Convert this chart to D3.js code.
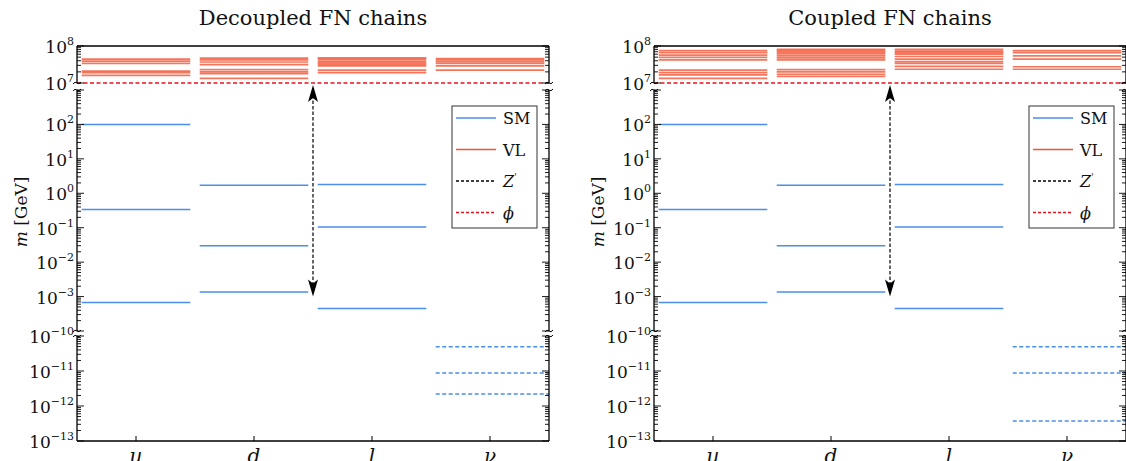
<!DOCTYPE html>
<html>
<head>
<meta charset="utf-8">
<script src="https://cdn.jsdelivr.net/npm/d3@7"></script>
<style>
body { margin: 0; background: #fff; }
text { font-family: "DejaVu Serif", serif; fill: #111; }
</style>
</head>
<body>
<script>
const width = 1126,
      height = 461;

const categories = ["u", "d", "l", "ν"];
const panelTitles = ["Decoupled FN chains", "Coupled FN chains"];

// SM masses in GeV (charged fermions are the same in both panels)
const smUp = [100, 0.34, 6.7e-4];
const smDown = [1.7, 0.03, 1.35e-3];
const smLepton = [1.8, 0.105, 4.5e-4];
const smNuDecoupled = [4.9e-11, 8.8e-12, 2.2e-12];
const smNuCoupled = [4.9e-11, 8.8e-12, 3.7e-13];

// vector-like masses in GeV
const vlUpDecoupled = [4.4e7, 3.9e7, 3.4e7, 2.1e7, 1.9e7, 1.6e7];
const vlDownDecoupled = [4.7e7, 4.2e7, 3.7e7, 3.15e7, 2.3e7, 2.0e7, 1.8e7, 1.34e7];
const vlLeptonDecoupled = [4.8e7, 4.4e7, 3.9e7, 3.5e7, 3.2e7, 2.9e7, 2.24e7, 1.9e7];
const vlNuDecoupled = [4.6e7, 4.2e7, 3.76e7, 3.4e7, 2.9e7, 2.24e7];

const vlUpCoupled = [7.5e7, 6.6e7, 5.7e7, 4.95e7, 4.2e7, 2.24e7, 1.9e7, 1.65e7, 1.34e7];
const vlDownCoupled = [8.1e7, 7.5e7, 6.8e7, 6.1e7, 5.4e7, 4.75e7, 4.2e7, 2.3e7, 2.0e7, 1.7e7, 1.5e7];
const vlLeptonCoupled = [8.1e7, 7.3e7, 6.6e7, 6.0e7, 5.2e7, 4.4e7, 3.8e7, 3.4e7, 2.8e7, 2.35e7];
const vlNuCoupled = [7.5e7, 6.6e7, 5.4e7, 4.4e7, 2.75e7, 2.35e7];

const phiMass = 1e7;
const zPrimeSpan = [1e7, 1e-3];
const zPrimeX = 1.5;

const yTickTop = [1e8, 1e7];
const yTickMid = [1e2, 1e1, 1e0, 1e-1, 1e-2, 1e-3];
const yTickBottom = [1e-10, 1e-11, 1e-12, 1e-13];

const panels = [
    {title: panelTitles[0], sm: [smUp, smDown, smLepton, smNuDecoupled],
     vl: [vlUpDecoupled, vlDownDecoupled, vlLeptonDecoupled, vlNuDecoupled]},
    {title: panelTitles[1], sm: [smUp, smDown, smLepton, smNuCoupled],
     vl: [vlUpCoupled, vlDownCoupled, vlLeptonCoupled, vlNuCoupled]}
];

const smColor = "#4a8ee8",
      vlColor = "#f25433",
      phiColor = "#e8121c";

const panelLeft = [77, 654],
      panelWidth = 472,
      plotTop = 46,
      plotBottom = 441;

// three stacked pieces of one broken log axis
const segments = [
    {scale: d3.scaleLog().domain([1e7, 1e8]).range([83, plotTop]), ticks: yTickTop},
    {scale: d3.scaleLog().domain([1e-4, 1e3]).range([331, 90]), ticks: yTickMid},
    {scale: d3.scaleLog().domain([1e-13, 1e-10]).range([plotBottom, 336]), ticks: yTickBottom}
];

function yOf(v) {
    for (let s of segments) {
        let d = s.scale.domain();
        if (v >= d[0] * 0.999 && v <= d[1] * 1.001) return s.scale(v);
    }
    return null;
}

function powLabel(sel, v) {
    let e = Math.round(Math.log10(v));
    sel.append("tspan").text("10");
    sel.append("tspan")
        .attr("dy", -8)
        .style("font-size", "11px")
        .text(String(e).replace("-", "−"));
}

let svg = d3.select("body")
    .append("svg")
    .attr("width", width)
    .attr("height", height);

function drawPanel(p, k) {
    let x0 = panelLeft[k];
    let x = d3.scaleLinear().domain([-0.5, 3.5]).range([x0, x0 + panelWidth]);
    let g = svg.append("g");

    // title
    g.append("text")
        .attr("x", x0 + panelWidth / 2)
        .attr("y", 25)
        .attr("text-anchor", "middle")
        .style("font-size", "21px")
        .text(p.title);

    // y label
    let yl = g.append("text")
        .attr("text-anchor", "middle")
        .attr("transform", "translate(" + (x0 - 50) + ",212)rotate(-90)")
        .style("font-size", "17px");
    yl.append("tspan").style("font-style", "italic").text("m");
    yl.append("tspan").text(" [GeV]");

    // VL lines
    p.vl.forEach(function (vals, i) {
        g.selectAll(null)
            .data(vals)
            .enter()
            .append("line")
            .attr("x1", x(i - 0.46))
            .attr("x2", x(i + 0.46))
            .attr("y1", d => yOf(d))
            .attr("y2", d => yOf(d))
            .attr("stroke", vlColor)
            .attr("stroke-opacity", 0.8)
            .attr("stroke-width", 1.7);
    });

    // SM lines
    p.sm.forEach(function (vals, i) {
        let nu = i === 3;
        g.selectAll(null)
            .data(vals)
            .enter()
            .append("line")
            .attr("x1", x(i - 0.46))
            .attr("x2", nu ? x(3.5) : x(i + 0.46))
            .attr("y1", d => yOf(d))
            .attr("y2", d => yOf(d))
            .attr("stroke", smColor)
            .attr("stroke-width", 1.5)
            .attr("stroke-dasharray", nu ? "4,2.5" : null);
    });

    // phi line
    g.append("line")
        .attr("x1", x(-0.5))
        .attr("x2", x(3.5))
        .attr("y1", yOf(phiMass))
        .attr("y2", yOf(phiMass))
        .attr("stroke", phiColor)
        .attr("stroke-width", 1.6)
        .attr("stroke-dasharray", "4,2.5");

    // Z' arrow
    let ax = x(zPrimeX),
        ya = yOf(zPrimeSpan[0]) + 2,
        yb = yOf(zPrimeSpan[1]);
    g.append("line")
        .attr("x1", ax).attr("x2", ax)
        .attr("y1", ya + 10).attr("y2", yb - 10)
        .attr("stroke", "#000")
        .attr("stroke-width", 1.2)
        .attr("stroke-dasharray", "3.5,2");
    g.append("path")
        .attr("d", "M" + ax + "," + ya + "L" + (ax - 5) + "," + (ya + 17) + "L" + ax + "," + (ya + 13) + "L" + (ax + 5) + "," + (ya + 17) + "Z")
        .attr("fill", "#000");
    g.append("path")
        .attr("d", "M" + ax + "," + yb + "L" + (ax - 5) + "," + (yb - 17) + "L" + ax + "," + (yb - 13) + "L" + (ax + 5) + "," + (yb - 17) + "Z")
        .attr("fill", "#000");

    // frame
    let frame = g.append("g").attr("stroke", "#000").attr("fill", "none");
    frame.append("line").attr("x1", x0).attr("x2", x0 + panelWidth).attr("y1", plotTop).attr("y2", plotTop).attr("stroke-width", 1.3);
    frame.append("line").attr("x1", x0).attr("x2", x0 + panelWidth).attr("y1", plotBottom).attr("y2", plotBottom).attr("stroke-width", 1.3);

    segments.forEach(function (s) {
        let r = s.scale.range();
        [x0, x0 + panelWidth].forEach(function (sx, side) {
            frame.append("line")
                .attr("x1", sx).attr("x2", sx)
                .attr("y1", r[0]).attr("y2", r[1])
                .attr("stroke-width", 1.3);
            let dir = side === 0 ? 1 : -1;
            let d = s.scale.domain();
            let lo = Math.round(Math.log10(d[0])), hi = Math.round(Math.log10(d[1]));
            for (let e = lo; e <= hi; e++) {
                for (let m = 1; m <= 9; m++) {
                    let v = m * Math.pow(10, e);
                    if (v < d[0] * 0.999 || v > d[1] * 1.001) continue;
                    let len = m === 1 ? 7 : 4;
                    frame.append("line")
                        .attr("x1", sx).attr("x2", sx + dir * len)
                        .attr("y1", s.scale(v)).attr("y2", s.scale(v))
                        .attr("stroke-width", 0.9);
                }
            }
        });
    });

    // break marks
    [[83, 90], [331, 336]].forEach(function (b) {
        [x0, x0 + panelWidth].forEach(function (sx) {
            b.forEach(function (by) {
                frame.append("path")
                    .attr("d", "M" + (sx - 4) + "," + (by + 1) + "q2,-3 4,-1 t4,-1")
                    .attr("stroke-width", 1);
            });
        });
    });

    // y tick labels
    segments.forEach(function (s) {
        g.selectAll(null)
            .data(s.ticks)
            .enter()
            .append("text")
            .attr("x", x0 - 3)
            .attr("y", d => s.scale(d) + 7)
            .attr("text-anchor", "end")
            .style("font-size", "17px")
            .each(function (d) { powLabel(d3.select(this), d); });
    });

    // x ticks and labels
    categories.forEach(function (c, i) {
        g.append("line")
            .attr("x1", x(i)).attr("x2", x(i))
            .attr("y1", plotBottom).attr("y2", plotBottom - 5)
            .attr("stroke", "#000");
        g.append("text")
            .attr("x", x(i))
            .attr("y", plotBottom + 22)
            .attr("text-anchor", "middle")
            .style("font-size", "20px")
            .style("font-style", "italic")
            .text(c);
    });

    // legend
    let lx = x0 + 375, ly = 106;
    let lg = g.append("g");
    lg.append("rect")
        .attr("x", lx).attr("y", ly)
        .attr("width", 85).attr("height", 122)
        .attr("fill", "#fff")
        .attr("stroke", "#333");
    let items = [
        {label: "SM", color: smColor, dash: null},
        {label: "VL", color: vlColor, dash: null},
        {label: "Z", color: "#000", dash: "3,2"},
        {label: "ϕ", color: phiColor, dash: "3,2"}
    ];
    items.forEach(function (it, j) {
        let yy = ly + 12 + j * 31.5;
        lg.append("line")
            .attr("x1", lx + 4).attr("x2", lx + 44)
            .attr("y1", yy).attr("y2", yy)
            .attr("stroke", it.color)
            .attr("stroke-width", 1.5)
            .attr("stroke-dasharray", it.dash);
        let t = lg.append("text")
            .attr("x", lx + 51)
            .attr("y", yy + 6)
            .style("font-size", "16px");
        if (it.label === "Z") {
            t.append("tspan").style("font-style", "italic").text("Z");
            t.append("tspan").attr("dy", -7).style("font-size", "9px").text("'");
        } else if (it.label === "ϕ") {
            t.style("font-style", "italic").text(it.label);
        } else {
            t.text(it.label);
        }
    });
}

panels.forEach(drawPanel);
</script>
</body>
</html>
